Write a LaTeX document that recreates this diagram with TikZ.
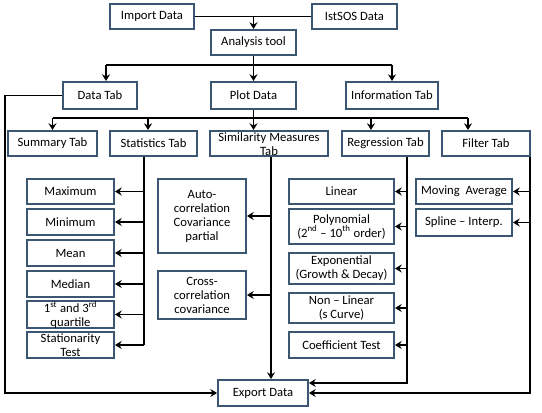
\documentclass[tikz,border=0pt]{standalone}
\usepackage{fontspec}
\setmainfont{Carlito}
\usetikzlibrary{arrows.meta,calc}
\definecolor{boxc}{HTML}{3B5670}
\tikzset{
  box/.style={draw=boxc, line width=1.5pt, inner sep=0pt, align=center, text=black,
    font=\fontsize{9.5}{10.5}\selectfont},
  sz/.style 2 args={minimum width=#1*0.75pt, minimum height=#2*0.75pt},
  conn/.style={line width=1.4pt, black},
  arr/.style={conn, -{Stealth[length=5pt,width=6pt]}},
}
\begin{document}
\begin{tikzpicture}[x=0.75pt,y=-0.75pt]
\useasboundingbox (0,0) rectangle (542,413);
% top
\node[box,sz={84}{25}] (imp) at (152,16.5) {Import Data};
\node[box,sz={85}{25}] (ist) at (354.5,16.5) {IstSOS Data};
\node[box,sz={85}{25}] (ana) at (253.5,42.5) {Analysis tool};
% level 1
\node[box,sz={74}{27}] (data) at (100,95.5) {Data Tab};
\node[box,sz={85}{27}] (plot) at (253.5,95.5) {Plot Data};
\node[box,sz={92}{27}] (info) at (392,95.5) {Information Tab};
% level 2
\node[box,sz={89}{25}] (sum) at (52.5,143.5) {Summary Tab};
\node[box,sz={87}{25}] (stat) at (153.5,143.5) {Statistics Tab};
\node[box,sz={118}{25}] (sim) at (269,143.5) {};
\node[box,draw=none,font=\fontsize{9.5}{10.5}\selectfont] (simt) at (269,144.5) {Similarity Measures\\Tab};
\node[box,sz={87}{25}] (reg) at (385.5,143.5) {Regression Tab};
\node[box,sz={88}{25}] (fil) at (486,143.5) {Filter Tab};
% statistics
\node[box,sz={87}{25}] (max) at (70.5,191.5) {Maximum};
\node[box,sz={87}{26}] (min) at (70.5,222) {Minimum};
\node[box,sz={87}{26}] (mean) at (70.5,253) {Mean};
\node[box,sz={87}{26}] (med) at (70.5,284) {Median};
\node[box,sz={87}{27}] (quart) at (70.5,314.5) {1\textsuperscript{st} and 3\textsuperscript{rd}\\quartile};
\node[box,sz={87}{26}] (stn) at (70.5,345) {Stationarity\\Test};
% similarity
\node[box,sz={88}{74}] (auto) at (202,216) {Auto-\\correlation\\Covariance\\partial};
\node[box,sz={88}{48}] (cross) at (202,295) {Cross-\\correlation\\covariance};
% regression
\node[box,sz={105}{25}] (lin) at (341.5,191.5) {Linear};
\node[box,sz={105}{35}] (poly) at (341.5,226.5) {Polynomial\\(2\textsuperscript{nd} -- 10\textsuperscript{th} order)};
\node[box,sz={105}{31}] (expo) at (341.5,268.5) {Exponential\\(Growth \& Decay)};
\node[box,sz={105}{30}] (nonl) at (341.5,308) {Non -- Linear\\(s Curve)};
\node[box,sz={105}{26}] (coef) at (341.5,345) {Coefficient Test};
% filter
\node[box,sz={96}{25}] (mov) at (464,191.5) {Moving\ \ Average};
\node[box,sz={96}{27}] (spl) at (464,222.5) {Spline -- Interp.};
% export
\node[box,sz={90}{26}] (exp) at (263,393) {Export Data};

% connectors top
\draw[conn] (imp.east) -- (ist.west);
\draw[arr] (imp.east -| ana.north) -- (ana.north);
\coordinate (h1) at ($(ana.south)+(0,9)$);
\draw[conn] (ana.south) -- (h1);
\draw[conn] ([xshift=4.5pt]h1 -| data.north) -- (h1 -| info.north);
\draw[arr] ([xshift=4.5pt]h1 -| data.north) -- ([xshift=4.5pt]data.north);
\draw[arr] (h1) -- (plot.north);
\draw[arr] (h1 -| info.north) -- (info.north);
% level 2 connectors
\coordinate (h2) at ($(plot.south)+(0,8)$);
\draw[conn] (plot.south) -- (h2);
\draw[conn] (h2 -| sum.north) -- ([xshift=-13.5pt]h2 -| fil.north);
\draw[arr] (h2 -| sum.north) -- (sum.north);
\draw[arr] ([xshift=-4.1pt]h2 -| stat.north) -- ([xshift=-4.1pt]stat.north);
\draw[arr] (h2) -- (h2 |- sim.north);
\draw[arr] ([xshift=-10.9pt]h2 -| reg.north) -- ([xshift=-10.9pt]reg.north);
\draw[arr] ([xshift=-13.5pt]h2 -| fil.north) -- ([xshift=-13.5pt]fil.north);
% statistics branch
\coordinate (sl) at ([xshift=-7.1pt]stat.south);
\draw[conn] (sl) -- (sl |- stn.east);
\foreach \n in {max,min,mean,med,quart,stn}
  \draw[arr] (sl |- \n.east) -- (\n.east);
% similarity branch
\coordinate (ml) at ([xshift=1.5pt]sim.south);
\draw[arr] (ml) -- (ml |- exp.north);
\draw[arr] (ml |- auto.east) -- (auto.east);
\draw[arr] (ml |- cross.east) -- (cross.east);
% regression branch
\coordinate (rl) at ([xshift=16.1pt]reg.south);
\coordinate (re) at ([yshift=7.5pt]exp.east);
\draw[arr] (rl) |- (re);
\foreach \n in {lin,poly,expo,nonl,coef}
  \draw[arr] (rl |- \n.east) -- (\n.east);
% filter branch
\coordinate (fl) at ([xshift=33pt]fil.south);
\draw[arr] (fl) |- (exp.east);
\draw[arr] (fl |- mov.east) -- (mov.east);
\draw[arr] (fl |- spl.east) -- (spl.east);
% data tab to export
\coordinate (L) at (5,0);
\draw[arr] (data.west) -- (L |- data.west) -- (L |- exp.west) -- (exp.west);
\end{tikzpicture}
\end{document}
